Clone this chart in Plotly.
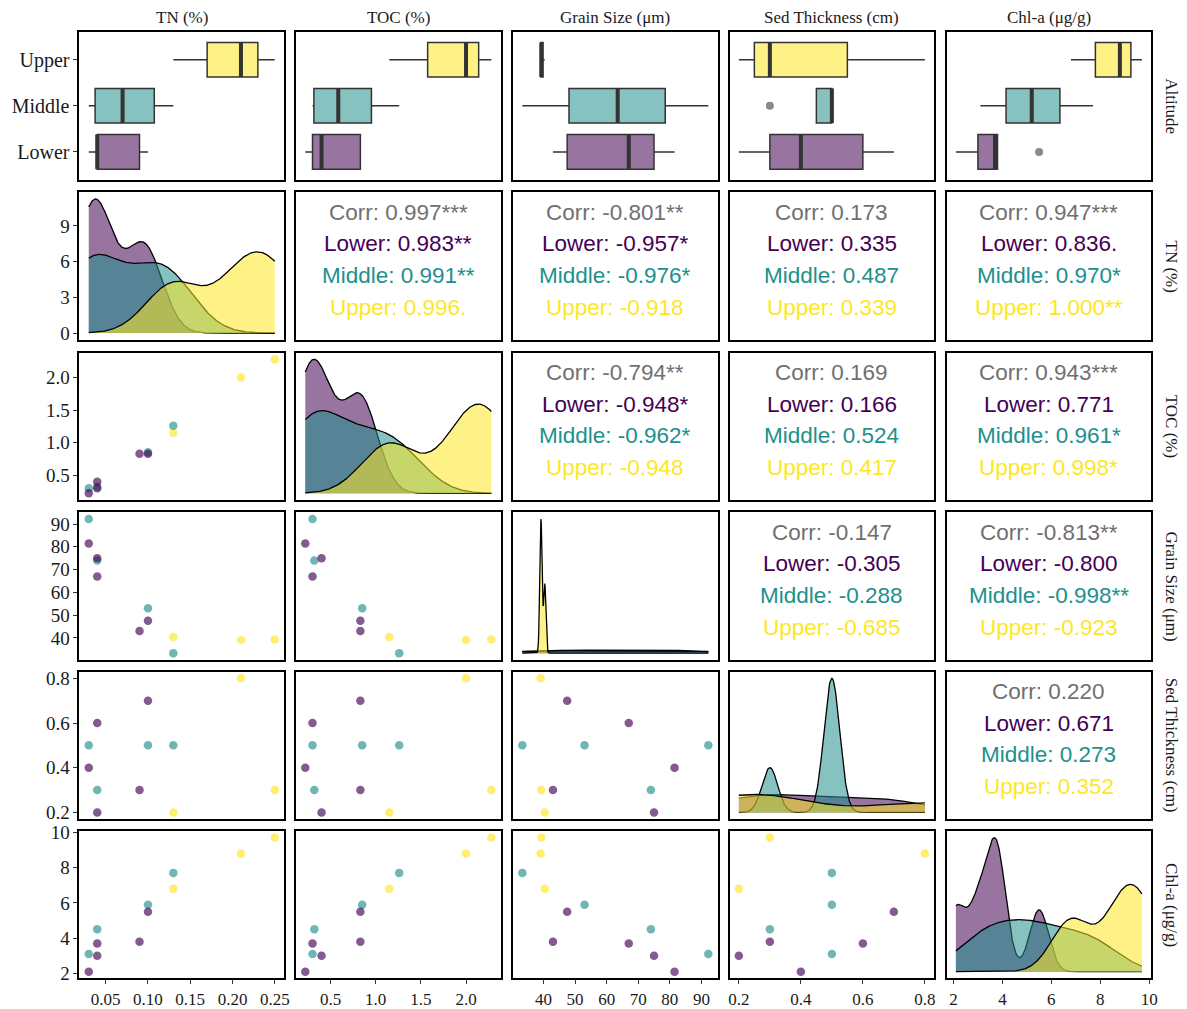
import numpy as np
import plotly.graph_objects as go

# ---- data: one row per sampling site, grouped by altitude ----
groups = ["Lower", "Middle", "Upper"]
group_colors = ["#440154", "#21908C", "#FDE725"]

altitude = ["Lower"] * 5 + ["Middle"] * 4 + ["Upper"] * 3
tn = [0.03, 0.04, 0.04, 0.09, 0.10, 0.03, 0.04, 0.10, 0.13, 0.13, 0.21, 0.25]
toc = [0.22, 0.40, 0.30, 0.83, 0.83, 0.30, 0.32, 0.85, 1.26, 1.15, 2.00, 2.28]
grain = [81.5, 75.0, 67.0, 43.0, 47.5, 92.2, 74.0, 53.0, 33.3, 40.4, 39.1, 39.3]
sed = [0.4, 0.2, 0.6, 0.3, 0.7, 0.5, 0.3, 0.5, 0.5, 0.2, 0.8, 0.3]
chl = [2.1, 3.0, 3.7, 3.8, 5.5, 3.1, 4.5, 5.9, 7.7, 6.8, 8.8, 9.7]

var_labels = ["TN (%)", "TOC (%)", "Grain Size (μm)", "Sed Thickness (cm)", "Chl-a (μg/g)"]

# tick positions / labels for every variable
tn_tickvals = [0.05, 0.10, 0.15, 0.20, 0.25]
tn_ticktext = ["0.05", "0.10", "0.15", "0.20", "0.25"]
toc_tickvals = [0.5, 1.0, 1.5, 2.0]
toc_ticktext = ["0.5", "1.0", "1.5", "2.0"]
grain_tickvals = [40, 50, 60, 70, 80, 90]
grain_ticktext = ["40", "50", "60", "70", "80", "90"]
sed_tickvals = [0.2, 0.4, 0.6, 0.8]
sed_ticktext = ["0.2", "0.4", "0.6", "0.8"]
chl_tickvals = [2, 4, 6, 8, 10]
chl_ticktext = ["2", "4", "6", "8", "10"]
density_tickvals = [0, 3, 6, 9]
density_ticktext = ["0", "3", "6", "9"]

# correlation labels (overall, then Lower / Middle / Upper) for the upper triangle
corr_tn_toc = ["Corr: 0.997***", "Lower: 0.983**", "Middle: 0.991**", "Upper: 0.996."]
corr_tn_grain = ["Corr: -0.801**", "Lower: -0.957*", "Middle: -0.976*", "Upper: -0.918"]
corr_tn_sed = ["Corr: 0.173", "Lower: 0.335", "Middle: 0.487", "Upper: 0.339"]
corr_tn_chl = ["Corr: 0.947***", "Lower: 0.836.", "Middle: 0.970*", "Upper: 1.000**"]
corr_toc_grain = ["Corr: -0.794**", "Lower: -0.948*", "Middle: -0.962*", "Upper: -0.948"]
corr_toc_sed = ["Corr: 0.169", "Lower: 0.166", "Middle: 0.524", "Upper: 0.417"]
corr_toc_chl = ["Corr: 0.943***", "Lower: 0.771", "Middle: 0.961*", "Upper: 0.998*"]
corr_grain_sed = ["Corr: -0.147", "Lower: -0.305", "Middle: -0.288", "Upper: -0.685"]
corr_grain_chl = ["Corr: -0.813**", "Lower: -0.800", "Middle: -0.998**", "Upper: -0.923"]
corr_sed_chl = ["Corr: 0.220", "Lower: 0.671", "Middle: 0.273", "Upper: 0.352"]

# ---- assembly ----
variables = [np.array(v, float) for v in (tn, toc, grain, sed, chl)]
ticks = [(tn_tickvals, tn_ticktext), (toc_tickvals, toc_ticktext),
         (grain_tickvals, grain_ticktext), (sed_tickvals, sed_ticktext),
         (chl_tickvals, chl_ticktext)]
corr_text = {
    (0, 1): corr_tn_toc, (0, 2): corr_tn_grain, (0, 3): corr_tn_sed, (0, 4): corr_tn_chl,
    (1, 2): corr_toc_grain, (1, 3): corr_toc_sed, (1, 4): corr_toc_chl,
    (2, 3): corr_grain_sed, (2, 4): corr_grain_chl,
    (3, 4): corr_sed_chl,
}
alt = np.array(altitude)
corr_colors = ["#707070"] + group_colors

W, H = 1187, 1009
SERIF = "Liberation Serif, Times New Roman, serif"
SANS = "Liberation Sans, Arial, sans-serif"
# panel grid in pixels (left edges, top edges, panel size)
col_left = [79, 297, 515.5, 733.5, 952]
row_top = [23.5, 187, 350.5, 513.5, 676, 838.5]
PW, PH = 206, 150.5


def rgba(hex_color, a):
    h = hex_color.lstrip("#")
    r, g, b = int(h[0:2], 16), int(h[2:4], 16), int(h[4:6], 16)
    return f"rgba({r},{g},{b},{a})"


def expanded(v, frac=0.05):
    lo, hi = float(np.min(v)), float(np.max(v))
    pad = (hi - lo) * frac
    return [lo - pad, hi + pad]


def bw_nrd0(v):
    sd = np.std(v, ddof=1)
    q75, q25 = np.percentile(v, [75, 25])
    lo = min(sd, (q75 - q25) / 1.34)
    if lo <= 0:
        lo = sd if sd > 0 else 1.0
    return 0.9 * lo * len(v) ** -0.2


def kde(v, grid):
    bw = bw_nrd0(v)
    z = (grid[:, None] - v[None, :]) / bw
    return np.exp(-0.5 * z ** 2).sum(axis=1) / (len(v) * bw * np.sqrt(2 * np.pi))


def box_stats(v):
    q1, med, q3 = np.percentile(v, [25, 50, 75])
    iqr = q3 - q1
    inside = v[(v >= q1 - 1.5 * iqr) & (v <= q3 + 1.5 * iqr)]
    outliers = v[(v < q1 - 1.5 * iqr) | (v > q3 + 1.5 * iqr)]
    return q1, med, q3, inside.min(), inside.max(), outliers


fig = go.Figure()
layout = {}
annotations = []

axis_common = dict(showline=True, mirror=True, linecolor="black", linewidth=2,
                   showgrid=False, zeroline=False, fixedrange=True)
tick_font = dict(family=SERIF, size=17, color="#1a1a1a")
ytick_font = dict(family=SERIF, size=19, color="#1a1a1a")

for r in range(6):
    for c in range(5):
        k = r * 5 + c + 1
        xref = "x" if k == 1 else f"x{k}"
        yref = "y" if k == 1 else f"y{k}"
        xkey = "xaxis" if k == 1 else f"xaxis{k}"
        ykey = "yaxis" if k == 1 else f"yaxis{k}"
        x0, x1 = col_left[c] / W, (col_left[c] + PW) / W
        y1 = 1 - row_top[r] / H
        y0 = 1 - (row_top[r] + PH) / H

        xvar = variables[c]
        xax = dict(axis_common, domain=[x0, x1], anchor=yref, range=expanded(xvar),
                   showticklabels=False, ticks="")
        yax = dict(axis_common, domain=[y0, y1], anchor=xref, showticklabels=False, ticks="")

        if r == 5:
            tv, tt = ticks[c]
            xax.update(tickvals=tv, ticktext=tt, showticklabels=True, ticks="outside",
                       ticklen=4, tickwidth=1, tickcolor="#333333", tickfont=tick_font)

        if r == 0:
            # horizontal box plots of each variable by altitude
            for gi, g in enumerate(groups):
                v = xvar[alt == g]
                q1, med, q3, lf, uf, outl = box_stats(v)
                fig.add_trace(go.Box(
                    y=[gi], q1=[q1], median=[med], q3=[q3], lowerfence=[lf], upperfence=[uf],
                    orientation="h", width=0.75, whiskerwidth=0,
                    fillcolor=rgba(group_colors[gi], 0.55),
                    line=dict(color="#333333", width=1.5), boxpoints=False,
                    xaxis=xref, yaxis=yref, showlegend=False, hoverinfo="skip"))
                fig.add_trace(go.Scatter(
                    x=[med, med], y=[gi - 0.375, gi + 0.375], mode="lines",
                    line=dict(color="#333333", width=4), xaxis=xref, yaxis=yref,
                    showlegend=False, hoverinfo="skip"))
                if len(outl):
                    fig.add_trace(go.Scatter(
                        x=outl, y=[gi] * len(outl), mode="markers",
                        marker=dict(color="#8a8a8a", size=8), xaxis=xref, yaxis=yref,
                        showlegend=False, hoverinfo="skip"))
            yax.update(range=[-0.6, 2.6])
            if c == 0:
                yax.update(tickvals=[0, 1, 2], ticktext=groups, showticklabels=True,
                           ticks="outside", ticklen=4, tickwidth=1, tickcolor="#333333",
                           tickfont=dict(family=SERIF, size=20, color="#1a1a1a"))
        else:
            rv = r - 1
            if c == rv:
                # per-group density curves over the variable's full range
                grid = np.linspace(xvar.min(), xvar.max(), 512)
                dmax = 0.0
                for gi, g in enumerate(groups):
                    d = kde(xvar[alt == g], grid)
                    dmax = max(dmax, d.max())
                    fig.add_trace(go.Scatter(
                        x=grid, y=d, mode="lines", fill="tozeroy",
                        fillcolor=rgba(group_colors[gi], 0.55),
                        line=dict(color="black", width=1.3),
                        xaxis=xref, yaxis=yref, showlegend=False, hoverinfo="skip"))
                yax.update(range=[-0.05 * dmax, 1.05 * dmax])
                if c == 0:
                    yax.update(tickvals=density_tickvals, ticktext=density_ticktext,
                               showticklabels=True, ticks="outside", ticklen=4, tickwidth=1,
                               tickcolor="#333333", tickfont=ytick_font)
            elif c > rv:
                # correlation text panel
                yax.update(range=[0, 1])
                xax.update(range=[0, 1])
                lines = corr_text[(rv, c)]
                for li, (txt, col) in enumerate(zip(lines, corr_colors)):
                    annotations.append(dict(
                        x=0.5, y=[0.865, 0.65, 0.436, 0.22][li], xref=xref, yref=yref,
                        text=txt, showarrow=False, xanchor="center", yanchor="middle",
                        font=dict(family=SANS, size=22.5, color=col)))
            else:
                # scatter of column variable against row variable
                yvar = variables[rv]
                for gi in [2, 1, 0]:
                    g = groups[gi]
                    m = alt == g
                    fig.add_trace(go.Scatter(
                        x=xvar[m], y=yvar[m], mode="markers",
                        marker=dict(color=group_colors[gi], size=8.5, opacity=0.65),
                        xaxis=xref, yaxis=yref, showlegend=False, hoverinfo="skip"))
                yax.update(range=expanded(yvar))
                if c == 0:
                    tv, tt = ticks[rv]
                    yax.update(tickvals=tv, ticktext=tt, showticklabels=True, ticks="outside",
                               ticklen=4, tickwidth=1, tickcolor="#333333", tickfont=ytick_font)

        layout[xkey] = xax
        layout[ykey] = yax

# column strip labels on top
for c, lab in enumerate(var_labels):
    annotations.append(dict(
        x=(col_left[c] + PW / 2) / W, y=1 - 9 / H, xref="paper", yref="paper",
        text=lab, showarrow=False, xanchor="center", yanchor="middle",
        font=dict(family=SERIF, size=17, color="#1a1a1a")))

# row strip labels on the right
row_labels = ["Altitude"] + var_labels
for r, lab in enumerate(row_labels):
    annotations.append(dict(
        x=1178.5 / W, y=1 - (row_top[r] + PH / 2) / H, xref="paper", yref="paper",
        text=lab, showarrow=False, textangle=90, xanchor="center", yanchor="middle",
        font=dict(family=SERIF, size=17, color="#1a1a1a")))

fig.update_layout(
    width=W, height=H, autosize=False,
    margin=dict(l=0, r=0, t=0, b=0),
    paper_bgcolor="white", plot_bgcolor="white",
    showlegend=False, hovermode=False,
    annotations=annotations,
    **layout,
)

fig.write_html("out.html", config={"displayModeBar": False})
